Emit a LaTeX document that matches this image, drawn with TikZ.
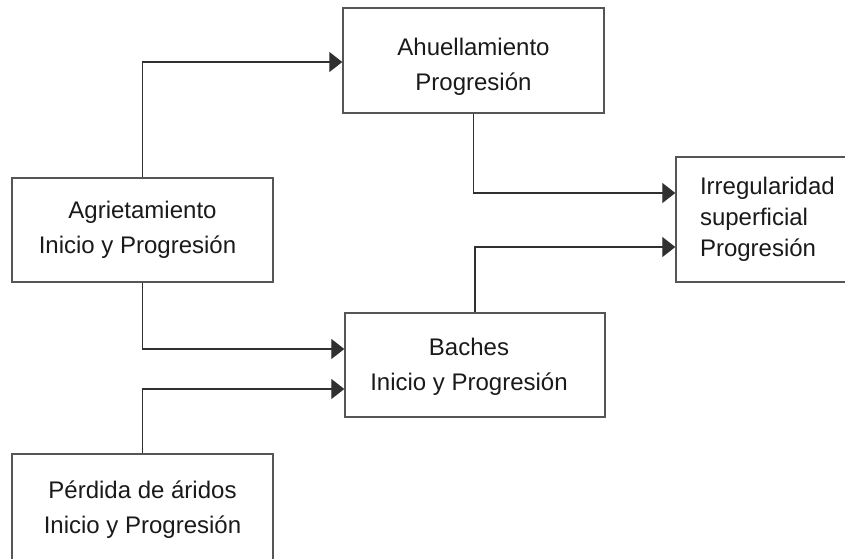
\documentclass[tikz,border=0pt]{standalone}
\usepackage{fontspec}
\setmainfont{Liberation Sans}
\usetikzlibrary{arrows.meta}
\definecolor{boxline}{HTML}{555555}
\definecolor{wire}{HTML}{303030}
\definecolor{ink}{HTML}{1A1A1A}
% tall strut pushing a first line further down in its box
\newcommand{\lowerfirst}[1]{\rule{0pt}{#1}}
\begin{document}
\begin{tikzpicture}[x=1pt,y=-1pt,
  box/.style={draw=boxline, line width=1.4pt, fill=white, text=ink,
    align=center, inner sep=0pt,
    font=\fontsize{24}{35}\selectfont},
  sidebox/.style={box, align=left, inner xsep=24pt,
    font=\fontsize{24}{31}\selectfont},
  link/.style={draw=wire, line width=1.3pt,
    -{Triangle[length=13pt,width=20pt]}}
]
\useasboundingbox (0,0) rectangle (845,558);
\clip (0,0) rectangle (845,558);

% process boxes
\node[box, minimum width=261pt, minimum height=105pt] (ahu) at (473.5,60.5)
  {\lowerfirst{30pt}Ahuellamiento\\Progresión};
\node[box, minimum width=261pt, minimum height=104pt] (agr) at (142.5,230)
  {Agrietamiento\\Inicio y Progresión\hspace*{10pt}};
\node[box, minimum width=260pt, minimum height=104pt] (bac) at (475,365)
  {\lowerfirst{21pt}Baches\hspace*{12pt}\\Inicio y Progresión\hspace*{12pt}};
\node[box, minimum width=261pt, minimum height=111pt] (per) at (142.5,509.5)
  {Pérdida de áridos\\Inicio y Progresión};
\node[sidebox, text width=146pt, minimum height=125pt] (irr) at (773,219.5)
  {Irregularidad\\superficial\\Progresión};

% connectors
\draw[link] (agr.north) |- ([yshift=-1.5pt]ahu.west);
\draw[link] (ahu.south) |- ([yshift=26.5pt]irr.west);
\draw[link] (bac.north) |- ([yshift=-27.5pt]irr.west);
\draw[link] (agr.south) |- ([yshift=16pt]bac.west);
\draw[link] (per.north) |- ([yshift=-24pt]bac.west);
\end{tikzpicture}
\end{document}
